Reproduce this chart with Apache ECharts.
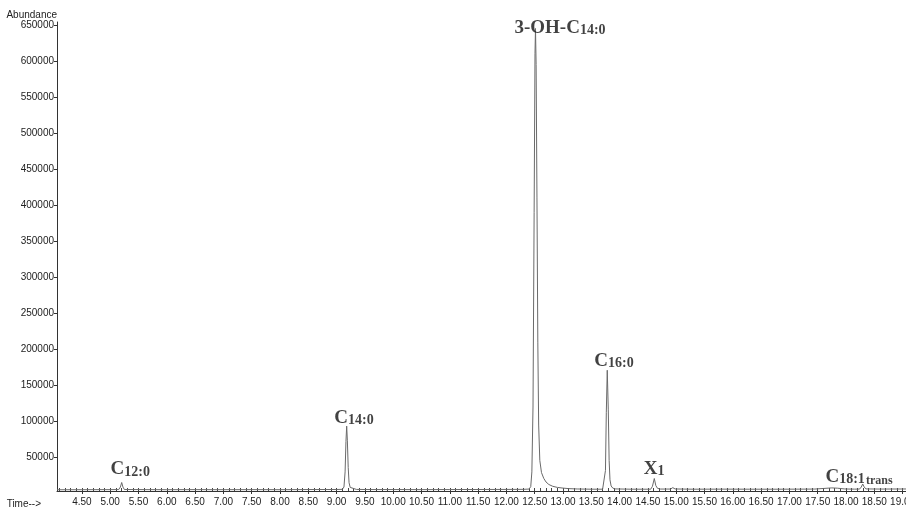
<!DOCTYPE html>
<html><head><meta charset="utf-8">
<script src="https://cdn.jsdelivr.net/npm/echarts@6/dist/echarts.min.js"></script>
<style>html,body{margin:0;padding:0;background:#fff}#c{width:906px;height:510px}</style>
</head><body><div id="c"></div>
<script>
// ---- tick labels ----
const timeTicks = [4.5,5.0,5.5,6.0,6.5,7.0,7.5,8.0,8.5,9.0,9.5,10.0,10.5,11.0,11.5,12.0,12.5,13.0,13.5,14.0,14.5,15.0,15.5,16.0,16.5,17.0,17.5,18.0,18.5,19.0];
const abundanceTicks = [50000,100000,150000,200000,250000,300000,350000,400000,450000,500000,550000,600000,650000];

// ---- chromatogram ----
const retentionTimes = [4.06,4.5,5.0,5.15,5.18,5.203,5.225,5.25,5.6,6.0,6.5,7.0,7.5,8.0,8.5,9.0,
  9.10,9.13,9.15,9.165,9.178,9.19,9.205,9.22,9.24,9.27,9.35,9.6,10.0,10.5,11.0,11.5,12.0,12.3,
  12.40,12.43,12.45,12.47,12.49,12.505,12.514,12.525,12.54,12.555,12.57,12.59,12.62,12.66,12.70,12.75,12.82,12.90,13.0,13.1,13.25,13.5,
  13.70,13.73,13.75,13.765,13.782,13.80,13.815,13.83,13.85,13.88,13.92,14.2,
  14.55,14.58,14.613,14.64,14.67,14.72,14.90,14.94,14.98,15.3,15.8,16.3,16.8,17.2,
  17.45,17.6,17.75,17.85,17.98,18.15,18.24,18.27,18.295,18.32,18.35,18.6,19.06];
const abundance = [5200,5300,5400,5500,9000,15300,9000,5600,5400,5300,5400,5300,5400,5300,5500,5600,
  5800,9000,30000,72000,93500,74000,36000,15000,8500,6200,5700,5500,5500,5400,5500,5600,5700,5800,
  6200,9500,30000,120000,390000,610000,645000,595000,410000,210000,95000,46000,29000,21000,16000,12500,10000,8500,7500,6800,6300,6000,
  6000,8500,32000,112000,171000,116000,46000,19000,10500,7500,6400,6000,
  6000,10000,20800,11000,7200,6200,6200,8200,6300,6000,6100,6000,6000,6100,
  6200,7000,7800,7400,6300,6100,6200,9000,13200,9200,6400,6200,6300];

// ---- peak annotations ----
const peakMain = ['C','C','3-OH-C','C','X','C'];
const peakSub = ['12:0','14:0','14:0','16:0','1','18:1'];
const peakSuffix = ['','','','','','trans'];
const peakLabelTimes = [5.355, 9.307, 12.947, 13.90, 14.61, 18.23];
const peakLabelLevels = [25670, 97400, 638500, 175900, 26600, 15000];

const minorTicks = [4.1,4.2,4.3,4.4];
for (let i = 0; i < timeTicks.length - 1; i++) {
  for (let k = 0; k < 5; k++) minorTicks.push(+(timeTicks[i] + k * 0.1).toFixed(2));
}
minorTicks.push(19.0);

const chart = echarts.init(document.getElementById('c'), null, {renderer: 'canvas'});
const serif = '"Liberation Serif","Times New Roman",serif';
const sans = '"Liberation Sans",Arial,sans-serif';

chart.setOption({
  backgroundColor: '#fff',
  animation: false,
  grid: {left: 57, right: 0, top: 22, bottom: 19, containLabel: false, outerBoundsMode: 'none'},
  xAxis: [{
    type: 'value', min: 4.06, max: 19.06,
    name: 'Time-->', nameLocation: 'start', nameGap: 16,
    nameTextStyle: {color: '#222', fontFamily: sans, fontSize: 10, verticalAlign: 'top', padding: [8, 0, 0, 0]},
    axisLine: {onZero: false, lineStyle: {color: '#333', width: 1}},
    axisTick: {customValues: timeTicks, length: 3, lineStyle: {color: '#333'}},
    axisLabel: {customValues: timeTicks, formatter: v => v.toFixed(2), color: '#222', fontFamily: sans, fontSize: 10, margin: 6, hideOverlap: false},
    splitLine: {show: false}
  }, {
    type: 'value', min: 4.06, max: 19.06, position: 'bottom',
    axisLine: {show: false},
    axisTick: {customValues: minorTicks, inside: true, length: 3, lineStyle: {color: '#444'}},
    axisLabel: {show: false},
    splitLine: {show: false}
  }],
  yAxis: {
    type: 'value', min: 3500, max: 654000,
    name: 'Abundance', nameLocation: 'end', nameGap: 6,
    nameTextStyle: {color: '#222', fontFamily: sans, fontSize: 10, align: 'right', verticalAlign: 'middle'},
    axisLine: {show: true, lineStyle: {color: '#333', width: 1}},
    axisTick: {show: true, customValues: abundanceTicks, length: 3, lineStyle: {color: '#333'}},
    axisLabel: {customValues: abundanceTicks, formatter: v => String(v), color: '#222', fontFamily: sans, fontSize: 10, margin: 3},
    splitLine: {show: false}
  },
  series: [{
    type: 'line',
    data: retentionTimes.map((t, i) => [t, abundance[i]]),
    showSymbol: false, symbol: 'none',
    lineStyle: {color: '#6a6a6a', width: 1},
    z: 2
  }, {
    type: 'scatter',
    symbolSize: 0,
    silent: true,
    data: peakLabelTimes.map((t, i) => ({
      value: [t, peakLabelLevels[i]],
      label: {
        show: true, position: 'top', distance: 0, offset: [0, 4],
        formatter: '{m|' + peakMain[i] + '}{s|' + peakSub[i] + '}' + (peakSuffix[i] ? '{sp| }{t|' + peakSuffix[i] + '}' : ''),
        rich: {
          m: {fontFamily: serif, fontWeight: 'bold', fontSize: i === 2 ? 19 : 19, color: '#111', lineHeight: 20, verticalAlign: 'bottom'},
          s: {fontFamily: serif, fontWeight: 'bold', fontSize: 14, color: '#111', lineHeight: 20, verticalAlign: 'bottom'},
          sp: {fontSize: 4, lineHeight: 20, verticalAlign: 'bottom'},
          t: {fontFamily: serif, fontWeight: 'bold', fontSize: 12, color: '#111', lineHeight: 20, verticalAlign: 'bottom'}
        }
      }
    })),
    z: 3
  }]
});
</script></body></html>
